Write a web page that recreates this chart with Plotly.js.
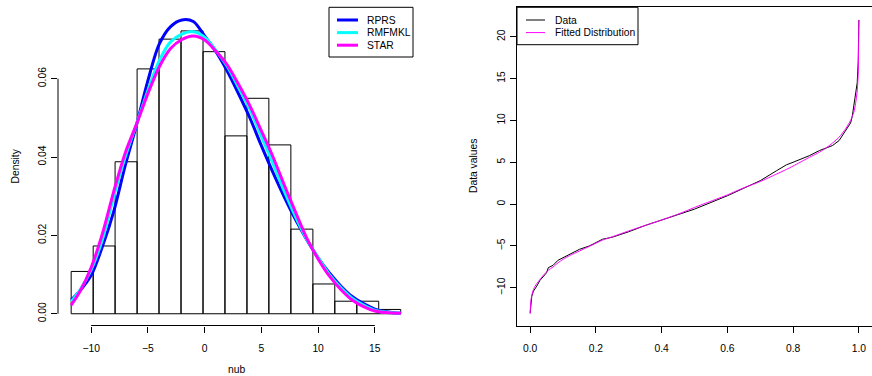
<!DOCTYPE html>
<html>
<head>
<meta charset="utf-8">
<script src="https://cdn.plot.ly/plotly-3.0.1.min.js"></script>
<style>html,body{margin:0;padding:0;background:#fff}#chart{width:872px;height:376px}</style>
</head>
<body>
<div id="chart"></div>
<script>
// ---- Left panel: histogram of nub (density) ----
const binEdges = [-11.76, -9.82, -7.89, -5.95, -4.02, -2.08, -0.14, 1.79, 3.73, 5.66, 7.60, 9.54, 11.47, 13.41, 15.34, 17.28];
const binDensity = [0.0108, 0.0173, 0.0388, 0.0625, 0.0701, 0.0722, 0.0669, 0.0454, 0.0550, 0.0431, 0.0216, 0.0076, 0.0032, 0.0032, 0.0011];

// fitted density curves
const curveX = [-11.76, -11, -10, -9, -8, -7, -6, -5, -4, -3, -2, -1, 0, 1, 2, 3, 4, 5, 6, 7, 8, 9, 10, 11, 12, 13, 14, 15, 16, 17.3];
const rprs   = [0.0035, 0.0058, 0.0098, 0.0172, 0.0262, 0.0378, 0.0482, 0.0595, 0.0688, 0.0733, 0.0750, 0.0746, 0.0709, 0.0669, 0.0619, 0.0561, 0.0499, 0.0429, 0.0362, 0.0299, 0.0241, 0.0189, 0.0143, 0.0104, 0.0071, 0.0044, 0.0026, 0.0012, 0.0005, 0.0001];
const rmfmkl = [0.0031, 0.0060, 0.0112, 0.0190, 0.0300, 0.0400, 0.0484, 0.0570, 0.0646, 0.0694, 0.0714, 0.0720, 0.0706, 0.0672, 0.0631, 0.0577, 0.0521, 0.0453, 0.0385, 0.0314, 0.0248, 0.0190, 0.0143, 0.0100, 0.0067, 0.0040, 0.0022, 0.0009, 0.0004, 0.0001];
const star   = [0.0022, 0.0056, 0.0118, 0.0205, 0.0313, 0.0410, 0.0484, 0.0562, 0.0630, 0.0677, 0.0700, 0.0709, 0.0699, 0.0670, 0.0635, 0.0585, 0.0530, 0.0467, 0.0402, 0.0330, 0.0260, 0.0193, 0.0140, 0.0096, 0.0062, 0.0035, 0.0018, 0.0007, 0.0003, 0.0001];

const leftXTicks = [-10, -5, 0, 5, 10, 15];
const leftYTicks = [0.00, 0.02, 0.04, 0.06];
const leftLegendNames = ['RPRS', 'RMFMKL', 'STAR'];
const leftLegendColors = ['#0000FF', '#00FFFF', '#FF00FF'];

// ---- Right panel: quantile plot ----
const probs = [0, 0.002, 0.005, 0.01, 0.015, 0.02, 0.03, 0.04, 0.05, 0.055, 0.07, 0.085, 0.1, 0.12, 0.15, 0.18, 0.22, 0.25, 0.3, 0.35, 0.4, 0.45, 0.5, 0.55, 0.6, 0.65, 0.7, 0.75, 0.78, 0.8, 0.85, 0.88, 0.9, 0.92, 0.94, 0.96, 0.975, 0.98, 0.985, 0.99, 0.995, 0.998, 1.0];
const dataVals = [-13.0, -11.8, -11.0, -10.4, -10.0, -9.8, -9.1, -8.7, -8.2, -7.6, -7.3, -6.7, -6.4, -6.0, -5.4, -5.0, -4.2, -3.95, -3.3, -2.55, -1.9, -1.3, -0.6, 0.2, 1.0, 1.9, 2.8, 4.0, 4.7, 5.0, 5.8, 6.4, 6.7, 7.0, 7.6, 8.8, 9.7, 10.5, 12.0, 13.0, 14.5, 17.0, 22.0];
const fittedVals = [-13.1, -11.6, -10.9, -10.2, -9.8, -9.5, -9.0, -8.5, -8.1, -7.9, -7.5, -7.0, -6.6, -6.15, -5.6, -5.05, -4.3, -3.9, -3.2, -2.55, -1.9, -1.2, -0.4, 0.35, 1.1, 1.95, 2.7, 3.6, 4.15, 4.55, 5.6, 6.2, 6.7, 7.3, 8.0, 9.0, 10.0, 10.5, 11.0, 12.0, 13.5, 15.5, 22.0];

const rightXTicks = [0.0, 0.2, 0.4, 0.6, 0.8, 1.0];
const rightYTicks = [-10, -5, 0, 5, 10, 15, 20];
const rightLegendNames = ['Data', 'Fitted Distribution'];
const rightLegendColors = ['#000000', '#FF00FF'];

const binCenters = binDensity.map((_, i) => (binEdges[i] + binEdges[i + 1]) / 2);
const binWidths = binDensity.map((_, i) => binEdges[i + 1] - binEdges[i]);

const FONT = 'Liberation Sans, Arial, Helvetica, sans-serif';
const FS = 10.3;
const W = 872, H = 376;
const px = v => v / W;            // pixel -> paper x
const py = v => 1 - v / H;        // pixel -> paper y

const traces = [
  {type: 'bar', x: binCenters, y: binDensity, width: binWidths, xaxis: 'x', yaxis: 'y',
   marker: {color: 'rgba(0,0,0,0)', line: {color: '#000', width: 1}}, showlegend: false, hoverinfo: 'skip'},
  {type: 'scatter', mode: 'lines', x: curveX, y: rprs, name: leftLegendNames[0], xaxis: 'x', yaxis: 'y',
   line: {color: leftLegendColors[0], width: 3, shape: 'spline', smoothing: 0.9}, showlegend: false},
  {type: 'scatter', mode: 'lines', x: curveX, y: rmfmkl, name: leftLegendNames[1], xaxis: 'x', yaxis: 'y',
   line: {color: leftLegendColors[1], width: 3, shape: 'spline', smoothing: 0.9}, showlegend: false},
  {type: 'scatter', mode: 'lines', x: curveX, y: star, name: leftLegendNames[2], xaxis: 'x', yaxis: 'y',
   line: {color: leftLegendColors[2], width: 3, shape: 'spline', smoothing: 0.9}, showlegend: false},
  {type: 'scatter', mode: 'lines', x: probs, y: dataVals, name: rightLegendNames[0], xaxis: 'x2', yaxis: 'y2',
   line: {color: rightLegendColors[0], width: 1}, showlegend: false},
  {type: 'scatter', mode: 'lines', x: probs, y: fittedVals, name: rightLegendNames[1], xaxis: 'x2', yaxis: 'y2',
   line: {color: rightLegendColors[1], width: 1, shape: 'spline', smoothing: 0.6}, showlegend: false}
];

const tickFont = {family: FONT, size: FS, color: '#000'};
const yDom = [py(325.5), py(7.4)];
const minus = v => v < 0 ? '\u2212' + Math.abs(v) : String(v);

// R-style axes (left panel) and boxed legends
const shapes = [
  {type: 'line', xref: 'x', yref: 'y domain', x0: leftXTicks[0], x1: leftXTicks[leftXTicks.length - 1], y0: 0, y1: 0, line: {color: '#000', width: 1}},
  {type: 'line', xref: 'x domain', yref: 'y', x0: 0, x1: 0, y0: leftYTicks[0], y1: leftYTicks[leftYTicks.length - 1], line: {color: '#000', width: 1}},
  {type: 'rect', xref: 'paper', yref: 'paper', x0: px(329), x1: px(413), y0: py(57), y1: py(7.3), line: {color: '#000', width: 1}, fillcolor: '#fff', layer: 'above'},
  {type: 'rect', xref: 'paper', yref: 'paper', x0: px(517), x1: px(638), y0: py(44.7), y1: py(7.3), line: {color: '#000', width: 1}, fillcolor: '#fff', layer: 'above'}
];
const annotations = [
  {text: 'nub', xref: 'paper', yref: 'paper', x: px(236), y: py(369), xanchor: 'center', yanchor: 'middle', showarrow: false, font: tickFont},
  {text: 'Density', xref: 'paper', yref: 'paper', x: px(15), y: py(166.5), xanchor: 'center', yanchor: 'middle', textangle: -90, showarrow: false, font: tickFont},
  {text: 'Data values', xref: 'paper', yref: 'paper', x: px(473.5), y: py(166.5), xanchor: 'center', yanchor: 'middle', textangle: -90, showarrow: false, font: tickFont}
];
leftLegendNames.forEach((name, i) => {
  const yy = 20 + i * 12.6;
  shapes.push({type: 'line', xref: 'paper', yref: 'paper', x0: px(337), x1: px(358), y0: py(yy), y1: py(yy), line: {color: leftLegendColors[i], width: 3}, layer: 'above'});
  annotations.push({text: name, xref: 'paper', yref: 'paper', x: px(365), y: py(yy), xanchor: 'left', yanchor: 'middle', showarrow: false, font: tickFont});
});
rightLegendNames.forEach((name, i) => {
  const yy = 20 + i * 12.6;
  shapes.push({type: 'line', xref: 'paper', yref: 'paper', x0: px(526), x1: px(545), y0: py(yy), y1: py(yy), line: {color: rightLegendColors[i], width: 1}, layer: 'above'});
  annotations.push({text: name, xref: 'paper', yref: 'paper', x: px(553), y: py(yy), xanchor: 'left', yanchor: 'middle', showarrow: false, font: tickFont});
});

const layout = {
  width: W, height: H,
  margin: {l: 0, r: 0, t: 0, b: 0},
  paper_bgcolor: '#fff', plot_bgcolor: '#fff',
  font: {family: FONT, size: FS, color: '#000'},
  bargap: 0, showlegend: false,
  xaxis: {domain: [px(58), px(414)], range: [-12.92, 18.45], tickvals: leftXTicks, ticktext: leftXTicks.map(minus),
          ticks: 'outside', ticklen: 6, tickcolor: '#000', ticklabelstandoff: 7, showline: false, showgrid: false, zeroline: false, tickfont: tickFont, anchor: 'y', fixedrange: true},
  yaxis: {domain: yDom, range: [-0.003, 0.0782], tickvals: leftYTicks, ticktext: leftYTicks.map(v => v.toFixed(2)), tickangle: -90,
          ticks: 'outside', ticklen: 6, tickcolor: '#000', ticklabelstandoff: 1, showline: false, showgrid: false, zeroline: false, tickfont: tickFont, anchor: 'x', fixedrange: true},
  xaxis2: {domain: [px(517), 1], range: [-0.04, 1.04], tickvals: rightXTicks, ticktext: rightXTicks.map(v => v.toFixed(1)),
           ticks: 'outside', ticklen: 6, tickcolor: '#000', ticklabelstandoff: 7, showline: true, mirror: true, linecolor: '#000', linewidth: 1,
           showgrid: false, zeroline: false, tickfont: tickFont, anchor: 'y2', fixedrange: true},
  yaxis2: {domain: yDom, range: [-14.5, 23.5], tickvals: rightYTicks, ticktext: rightYTicks.map(minus), tickangle: -90,
           ticks: 'outside', ticklen: 6, tickcolor: '#000', ticklabelstandoff: 1, showline: true, mirror: true, linecolor: '#000', linewidth: 1,
           showgrid: false, zeroline: false, tickfont: tickFont, anchor: 'x2', fixedrange: true},
  shapes: shapes,
  annotations: annotations
};

Plotly.newPlot('chart', traces, layout, {displayModeBar: false, staticPlot: true});
</script>
</body>
</html>
